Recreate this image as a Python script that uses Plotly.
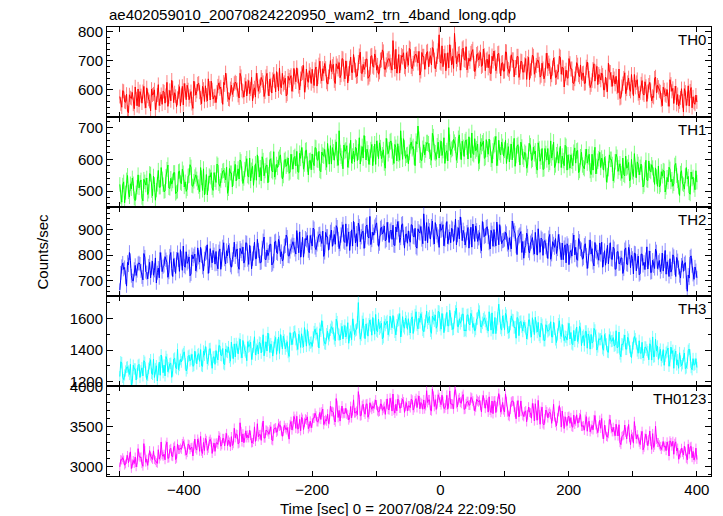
import numpy as np
import plotly.graph_objects as go
from plotly.subplots import make_subplots

# ---------------- data ----------------
TITLE = "ae402059010_20070824220950_wam2_trn_4band_long.qdp"
X_LABEL = "Time [sec] 0 = 2007/08/24 22:09:50"
Y_LABEL = "Counts/sec"
BAND_NAMES = ["TH0", "TH1", "TH2", "TH3", "TH0123"]

# bins come in two interleaved sets: A at -500, -497, ... and B at -498.5, -495.5, ...
TIME_A_START = -500.0
TIME_B_START = -498.5
TIME_STEP = 3.0
EXPOSURE = 1.0        # effective exposure per bin (s), sets the error bars

th0_a = [
    577, 540, 595, 557, 525, 583, 570, 550, 610, 545,
    542, 580, 594, 560, 607, 567, 527, 582, 600, 554,
    618, 568, 550, 593, 581, 543, 598, 633, 556, 578,
    571, 611, 581, 548, 598, 616, 566, 594, 536, 604,
    595, 623, 572, 612, 560, 582, 638, 565, 600, 578,
    556, 613, 604, 578, 626, 658, 583, 566, 616, 600,
    627, 601, 572, 645, 595, 617, 579, 632, 603, 562,
    607, 657, 595, 615, 633, 577, 645, 605, 637, 589,
    653, 593, 635, 675, 607, 619, 640, 585, 633, 649,
    618, 644, 676, 612, 638, 660, 592, 672, 626, 652,
    671, 615, 679, 645, 699, 631, 657, 673, 620, 662,
    663, 688, 622, 682, 694, 652, 706, 638, 674, 656,
    713, 660, 686, 646, 694, 730, 656, 670, 706, 640,
    654, 718, 678, 712, 684, 662, 704, 730, 670, 700,
    708, 684, 770, 672, 658, 722, 694, 714, 680, 728,
    685, 739, 673, 707, 723, 693, 651, 729, 715, 697,
    732, 706, 686, 740, 672, 716, 790, 692, 680, 726,
    700, 676, 728, 716, 795, 690, 722, 668, 740, 706,
    749, 685, 699, 731, 691, 673, 725, 709, 681, 741,
    666, 706, 722, 656, 700, 710, 682, 726, 648, 694,
    665, 730, 670, 690, 703, 645, 677, 715, 660, 697,
    662, 708, 690, 635, 675, 715, 668, 702, 688, 650,
    672, 650, 727, 692, 637, 675, 687, 644, 662, 712,
    678, 610, 668, 640, 690, 672, 622, 655, 685, 645,
    636, 658, 623, 696, 640, 618, 670, 630, 681, 653,
    634, 650, 600, 617, 692, 660, 612, 638, 647, 590,
    570, 611, 640, 587, 625, 603, 653, 580, 609, 635,
    572, 620, 588, 628, 560, 616, 598, 578, 640, 590,
    609, 593, 545, 600, 579, 567, 635, 595, 553, 613,
    584, 558, 604, 524, 592, 570, 544, 608, 576, 550,
    558,
]
th0_b = [
    551, 597, 559, 585, 521, 573, 591, 535, 569, 603,
    594, 554, 612, 538, 578, 560, 602, 586, 532, 582,
    546, 584, 596, 554, 626, 576, 562, 606, 590, 542,
    594, 544, 612, 622, 566, 600, 578, 552, 630, 582,
    620, 592, 552, 602, 614, 562, 606, 630, 568, 580,
    592, 624, 610, 550, 618, 632, 568, 604, 584, 622,
    623, 581, 657, 599, 575, 629, 611, 587, 643, 595,
    575, 633, 611, 643, 625, 593, 657, 579, 617, 635,
    631, 663, 597, 611, 657, 625, 579, 647, 643, 595,
    674, 628, 648, 600, 656, 684, 616, 634, 666, 622,
    631, 669, 613, 685, 647, 673, 691, 627, 645, 701,
    680, 632, 690, 672, 642, 708, 654, 700, 624, 674,
    660, 722, 668, 648, 716, 658, 688, 680, 706, 644,
    716, 682, 724, 668, 654, 702, 738, 672, 686, 706,
    696, 668, 712, 740, 682, 658, 718, 728, 672, 706,
    743, 681, 691, 721, 707, 733, 665, 715, 671, 729,
    680, 718, 746, 702, 688, 734, 696, 752, 714, 666,
    728, 756, 686, 674, 738, 706, 724, 694, 744, 702,
    669, 709, 725, 739, 663, 721, 703, 729, 685, 717,
    702, 676, 658, 716, 734, 666, 724, 682, 692, 664,
    731, 675, 657, 721, 703, 677, 715, 643, 699, 661,
    686, 636, 712, 666, 720, 654, 684, 702, 644, 692,
    638, 700, 674, 682, 652, 710, 642, 662, 716, 654,
    676, 656, 642, 708, 672, 624, 638, 694, 652, 686,
    656, 622, 678, 668, 608, 632, 690, 662, 618, 646,
    658, 600, 644, 594, 662, 636, 650, 620, 610, 672,
    573, 621, 659, 603, 641, 595, 609, 653, 625, 587,
    590, 632, 582, 612, 594, 626, 562, 574, 644, 616,
    597, 565, 609, 583, 601, 543, 619, 605, 589, 549,
    544, 572, 562, 604, 546, 614, 596, 538, 556, 582,
]

th1_a = [
    521, 465, 529, 495, 549, 481, 507, 523, 470, 512,
    510, 535, 469, 529, 541, 499, 553, 485, 521, 503,
    565, 512, 538, 498, 546, 582, 508, 522, 558, 492,
    499, 563, 523, 557, 529, 507, 549, 575, 515, 545,
    538, 514, 574, 502, 488, 552, 524, 544, 510, 558,
    527, 581, 515, 549, 565, 535, 493, 571, 557, 539,
    584, 558, 538, 592, 524, 568, 602, 544, 532, 578,
    558, 534, 586, 574, 608, 548, 580, 526, 598, 564,
    624, 560, 574, 606, 566, 548, 600, 584, 556, 616,
    569, 609, 625, 559, 603, 613, 585, 629, 551, 597,
    617, 580, 635, 597, 565, 623, 610, 590, 650, 585,
    585, 623, 637, 603, 690, 610, 570, 625, 643, 597,
    660, 610, 592, 635, 623, 585, 640, 675, 598, 620,
    607, 647, 617, 584, 634, 652, 602, 630, 572, 640,
    630, 658, 607, 647, 595, 617, 690, 600, 635, 613,
    586, 643, 634, 608, 656, 705, 613, 596, 646, 630,
    652, 626, 597, 670, 620, 642, 604, 657, 628, 587,
    627, 700, 615, 635, 653, 597, 665, 625, 657, 609,
    661, 601, 643, 683, 615, 627, 648, 593, 641, 657,
    606, 632, 664, 600, 626, 648, 580, 660, 614, 640,
    629, 587, 640, 624, 598, 666, 612, 646, 582, 638,
    600, 618, 582, 650, 596, 638, 626, 566, 632, 607,
    568, 634, 598, 584, 658, 622, 574, 614, 588, 641,
    610, 580, 640, 614, 572, 594, 622, 588, 628, 564,
    622, 574, 608, 588, 616, 552, 566, 638, 578, 602,
    574, 592, 606, 528, 570, 600, 584, 550, 616, 562,
    586, 540, 552, 610, 576, 532, 600, 546, 566, 592,
    551, 585, 513, 567, 535, 595, 561, 573, 521, 545,
    579, 519, 547, 563, 511, 529, 569, 537, 523, 587,
    532, 486, 564, 520, 548, 538, 494, 560, 544, 504,
    528,
]
th1_b = [
    481, 519, 463, 535, 497, 523, 541, 477, 495, 551,
    527, 479, 537, 519, 489, 555, 501, 547, 471, 521,
    512, 574, 520, 500, 568, 510, 540, 532, 558, 496,
    561, 527, 569, 513, 499, 547, 583, 517, 531, 551,
    526, 498, 542, 570, 512, 488, 548, 558, 502, 536,
    585, 523, 533, 563, 549, 575, 507, 557, 513, 571,
    532, 570, 598, 554, 540, 586, 548, 604, 566, 518,
    586, 614, 544, 532, 596, 564, 582, 552, 602, 560,
    544, 584, 600, 614, 538, 596, 578, 604, 560, 592,
    605, 579, 561, 619, 637, 569, 627, 585, 595, 567,
    591, 637, 599, 625, 561, 613, 631, 575, 609, 643,
    637, 597, 655, 581, 621, 603, 645, 629, 575, 625,
    588, 626, 638, 596, 668, 618, 604, 648, 632, 584,
    630, 580, 648, 658, 602, 636, 614, 588, 666, 618,
    655, 627, 587, 637, 649, 597, 641, 665, 603, 615,
    622, 654, 640, 580, 648, 662, 598, 634, 614, 652,
    648, 606, 682, 624, 600, 654, 636, 612, 668, 620,
    595, 653, 631, 663, 645, 613, 677, 599, 637, 655,
    639, 671, 605, 619, 665, 633, 587, 655, 651, 603,
    662, 616, 636, 588, 644, 672, 604, 622, 654, 610,
    660, 626, 592, 648, 630, 578, 642, 616, 654, 608,
    622, 572, 626, 642, 600, 618, 578, 652, 594, 634,
    570, 618, 634, 590, 604, 654, 582, 624, 612, 574,
    596, 644, 566, 592, 614, 580, 636, 626, 558, 608,
    582, 570, 632, 608, 564, 616, 604, 554, 594, 622,
    604, 566, 586, 550, 614, 600, 532, 592, 606, 574,
    556, 604, 548, 572, 590, 536, 560, 618, 542, 584,
    575, 557, 519, 597, 533, 565, 583, 551, 573, 515,
    513, 561, 565, 497, 543, 575, 529, 515, 581, 549,
    512, 556, 524, 506, 574, 546, 490, 538, 518, 564,
]

th2_a = [
    665, 756, 745, 714, 772, 810, 720, 700, 760, 740,
    770, 739, 704, 792, 732, 758, 712, 776, 741, 692,
    750, 810, 736, 760, 782, 714, 796, 748, 786, 729,
    809, 737, 787, 835, 753, 768, 793, 727, 785, 804,
    761, 792, 830, 753, 785, 811, 729, 825, 770, 801,
    814, 747, 824, 783, 848, 766, 797, 817, 753, 803,
    794, 824, 745, 817, 831, 781, 846, 764, 807, 786,
    850, 786, 818, 770, 827, 870, 782, 798, 842, 762,
    777, 854, 806, 846, 813, 786, 837, 868, 796, 832,
    852, 823, 895, 809, 792, 869, 835, 859, 818, 876,
    835, 900, 821, 862, 881, 845, 795, 888, 871, 850,
    897, 866, 842, 906, 825, 878, 918, 849, 834, 890,
    864, 835, 898, 883, 924, 852, 890, 826, 912, 871,
    950, 860, 877, 915, 867, 846, 908, 889, 855, 927,
    849, 897, 916, 837, 890, 902, 868, 921, 827, 882,
    894, 850, 916, 870, 832, 902, 886, 862, 960, 856,
    848, 894, 910, 870, 926, 878, 830, 896, 918, 862,
    930, 870, 848, 900, 886, 840, 906, 948, 856, 882,
    859, 907, 871, 831, 891, 913, 853, 887, 817, 899,
    876, 910, 848, 896, 834, 860, 928, 840, 882, 856,
    862, 882, 822, 842, 932, 894, 836, 867, 878, 810,
    788, 837, 872, 808, 854, 828, 888, 800, 835, 866,
    799, 856, 818, 866, 784, 852, 830, 806, 880, 820,
    847, 828, 770, 836, 811, 796, 878, 830, 780, 852,
    820, 789, 844, 748, 830, 804, 772, 849, 811, 780,
    803, 753, 817, 797, 766, 848, 783, 824, 747, 814,
    768, 789, 746, 828, 763, 813, 799, 727, 806, 776,
    724, 804, 760, 744, 832, 789, 732, 780, 748, 812,
    772, 736, 808, 777, 726, 753, 786, 746, 794, 717,
    778, 720, 761, 737, 771, 660, 711, 797, 725, 754,
    712,
]
th2_b = [
    731, 769, 752, 680, 762, 779, 702, 745, 721, 767,
    765, 715, 806, 736, 708, 772, 751, 722, 789, 732,
    712, 782, 755, 794, 772, 734, 810, 717, 762, 784,
    782, 821, 741, 758, 813, 775, 720, 801, 797, 739,
    828, 773, 797, 739, 806, 840, 758, 780, 818, 765,
    766, 812, 745, 831, 785, 817, 838, 761, 783, 850,
    814, 757, 826, 805, 769, 848, 783, 838, 747, 807,
    786, 861, 796, 772, 854, 784, 820, 810, 842, 767,
    851, 810, 861, 794, 777, 834, 878, 798, 815, 839,
    838, 804, 857, 890, 821, 792, 864, 876, 809, 850,
    905, 831, 843, 879, 862, 893, 811, 871, 819, 888,
    834, 880, 914, 861, 844, 899, 854, 921, 875, 818,
    898, 931, 847, 833, 910, 871, 893, 857, 917, 866,
    841, 889, 908, 925, 834, 903, 882, 913, 860, 898,
    892, 861, 839, 909, 930, 849, 918, 868, 880, 846,
    863, 918, 873, 904, 827, 890, 911, 844, 885, 926,
    910, 862, 932, 843, 891, 870, 920, 901, 836, 896,
    844, 889, 904, 853, 940, 880, 863, 916, 896, 839,
    887, 827, 908, 920, 853, 894, 867, 836, 930, 872,
    906, 872, 824, 884, 899, 836, 889, 918, 844, 858,
    889, 843, 867, 824, 901, 884, 802, 874, 891, 853,
    828, 885, 818, 847, 868, 804, 832, 902, 811, 861,
    854, 832, 787, 880, 804, 842, 864, 825, 852, 782,
    782, 840, 844, 763, 818, 856, 801, 784, 864, 825,
    784, 837, 799, 777, 859, 825, 758, 816, 792, 847,
    850, 783, 761, 838, 817, 785, 831, 745, 812, 766,
    789, 729, 820, 765, 830, 751, 787, 808, 739, 796,
    729, 804, 772, 782, 746, 816, 734, 758, 823, 748,
    779, 755, 738, 818, 774, 717, 734, 801, 750, 791,
    752, 711, 778, 766, 694, 723, 792, 759, 706, 740,
]

th3_a = [
    1233, 1320, 1214, 1268, 1294, 1246, 1179, 1304, 1281, 1252,
    1310, 1269, 1237, 1323, 1214, 1285, 1339, 1246, 1227, 1301,
    1279, 1241, 1324, 1305, 1359, 1263, 1314, 1228, 1343, 1289,
    1405, 1303, 1325, 1377, 1313, 1284, 1367, 1341, 1297, 1393,
    1313, 1377, 1403, 1297, 1368, 1384, 1339, 1409, 1285, 1358,
    1397, 1338, 1426, 1365, 1314, 1407, 1386, 1354, 1450, 1346,
    1357, 1418, 1440, 1386, 1461, 1397, 1333, 1421, 1450, 1376,
    1484, 1404, 1375, 1444, 1425, 1364, 1452, 1508, 1385, 1420,
    1416, 1480, 1432, 1379, 1459, 1488, 1408, 1453, 1360, 1469,
    1473, 1518, 1436, 1500, 1417, 1452, 1542, 1425, 1481, 1446,
    1423, 1514, 1500, 1458, 1535, 1586, 1466, 1439, 1519, 1493,
    1547, 1505, 1459, 1576, 1496, 1531, 1470, 1555, 1509, 1443,
    1517, 1597, 1498, 1530, 1700, 1469, 1578, 1514, 1565, 1488,
    1590, 1494, 1561, 1625, 1516, 1535, 1569, 1481, 1558, 1583,
    1525, 1566, 1618, 1515, 1557, 1592, 1483, 1611, 1538, 1579,
    1598, 1508, 1610, 1556, 1642, 1534, 1575, 1601, 1516, 1583,
    1572, 1612, 1506, 1602, 1622, 1554, 1641, 1532, 1590, 1561,
    1638, 1553, 1595, 1531, 1608, 1665, 1547, 1569, 1627, 1521,
    1520, 1623, 1559, 1613, 1568, 1533, 1600, 1642, 1546, 1594,
    1584, 1546, 1642, 1526, 1504, 1606, 1562, 1690, 1539, 1616,
    1529, 1616, 1510, 1564, 1590, 1542, 1475, 1600, 1577, 1548,
    1578, 1537, 1505, 1591, 1482, 1553, 1607, 1514, 1495, 1569,
    1499, 1461, 1544, 1525, 1579, 1483, 1534, 1448, 1563, 1509,
    1562, 1460, 1482, 1534, 1470, 1441, 1524, 1498, 1454, 1550,
    1428, 1492, 1518, 1412, 1483, 1499, 1454, 1524, 1400, 1473,
    1469, 1410, 1498, 1437, 1386, 1479, 1458, 1426, 1522, 1418,
    1377, 1438, 1460, 1406, 1481, 1417, 1353, 1441, 1470, 1396,
    1459, 1379, 1350, 1419, 1400, 1339, 1427, 1483, 1360, 1395,
    1341, 1405, 1357, 1304, 1384, 1413, 1333, 1378, 1285, 1394,
    1338, 1383, 1301, 1365, 1282, 1317, 1407, 1290, 1346, 1311,
    1290,
]
th3_b = [
    1326, 1227, 1243, 1291, 1268, 1310, 1201, 1281, 1211, 1304,
    1227, 1288, 1333, 1262, 1240, 1314, 1253, 1342, 1282, 1205,
    1324, 1369, 1257, 1237, 1340, 1289, 1317, 1269, 1349, 1282,
    1277, 1341, 1367, 1389, 1268, 1361, 1332, 1373, 1303, 1354,
    1371, 1329, 1301, 1393, 1422, 1313, 1406, 1339, 1355, 1310,
    1356, 1429, 1368, 1410, 1308, 1391, 1420, 1330, 1384, 1439,
    1440, 1376, 1469, 1351, 1415, 1386, 1453, 1427, 1341, 1421,
    1369, 1430, 1449, 1382, 1497, 1417, 1394, 1465, 1439, 1362,
    1453, 1373, 1482, 1498, 1408, 1462, 1427, 1386, 1510, 1434,
    1513, 1468, 1404, 1484, 1503, 1420, 1491, 1529, 1430, 1449,
    1480, 1532, 1509, 1413, 1522, 1544, 1442, 1500, 1468, 1528,
    1541, 1473, 1595, 1502, 1464, 1550, 1521, 1483, 1573, 1496,
    1466, 1559, 1524, 1575, 1546, 1495, 1597, 1472, 1533, 1562,
    1555, 1606, 1500, 1523, 1596, 1545, 1471, 1580, 1574, 1497,
    1614, 1541, 1573, 1496, 1586, 1630, 1522, 1550, 1602, 1531,
    1534, 1594, 1505, 1620, 1559, 1601, 1630, 1527, 1556, 1646,
    1599, 1522, 1615, 1586, 1538, 1644, 1558, 1631, 1510, 1590,
    1553, 1652, 1566, 1534, 1643, 1550, 1598, 1585, 1627, 1528,
    1620, 1565, 1632, 1543, 1520, 1597, 1655, 1549, 1572, 1604,
    1565, 1520, 1590, 1635, 1542, 1504, 1600, 1616, 1526, 1581,
    1632, 1542, 1513, 1616, 1587, 1545, 1606, 1491, 1580, 1520,
    1550, 1470, 1591, 1518, 1604, 1498, 1546, 1575, 1482, 1559,
    1461, 1560, 1518, 1531, 1483, 1576, 1467, 1499, 1585, 1486,
    1518, 1486, 1463, 1569, 1511, 1434, 1457, 1546, 1479, 1534,
    1483, 1428, 1518, 1502, 1406, 1444, 1537, 1492, 1422, 1467,
    1492, 1399, 1469, 1389, 1498, 1456, 1479, 1431, 1415, 1514,
    1358, 1435, 1495, 1406, 1467, 1393, 1415, 1486, 1441, 1380,
    1382, 1449, 1369, 1417, 1389, 1440, 1337, 1357, 1469, 1424,
    1384, 1333, 1403, 1362, 1391, 1298, 1419, 1397, 1371, 1307,
    1285, 1330, 1314, 1381, 1288, 1397, 1368, 1276, 1304, 1346,
]

# ---------------- assemble interleaved light curves ----------------
t_a = TIME_A_START + TIME_STEP * np.arange(len(th0_a))
t_b = TIME_B_START + TIME_STEP * np.arange(len(th0_b))
t_all = np.concatenate([t_a, t_b])
order = np.argsort(t_all, kind="stable")
time = t_all[order]


def merge(a, b):
    return np.concatenate([np.asarray(a, float), np.asarray(b, float)])[order]


th0 = merge(th0_a, th0_b)
th1 = merge(th1_a, th1_b)
th2 = merge(th2_a, th2_b)
th3 = merge(th3_a, th3_b)
th0123 = th0 + th1 + th2 + th3   # TH0123 is the sum of the four bands

series = [th0, th1, th2, th3, th0123]

# ---------------- styling ----------------
COLORS = ["#ff0000", "#00ff00", "#0000ff", "#00ffff", "#ff00ff"]
ERR_COLORS = ["rgba(255,0,0,0.5)", "rgba(0,255,0,0.5)", "rgba(0,0,255,0.45)",
              "rgba(0,255,255,0.5)", "rgba(255,0,255,0.5)"]
Y_RANGES = [[507, 817], [451, 734], [640, 988], [1172, 1739], [2882, 4009]]
Y_DTICK = [100, 100, 100, 200, 500]
Y_MINOR = [20, 20, 20, 100, 100]
X_RANGE = [-520, 422]
FONT = "Liberation Sans, Arial, Helvetica, sans-serif"

fig = make_subplots(rows=5, cols=1, shared_xaxes=True, vertical_spacing=0)

for i, v in enumerate(series):
    err = np.sqrt(v / EXPOSURE)
    fig.add_trace(
        go.Scatter(
            x=time, y=v, mode="lines",
            line=dict(color=COLORS[i], width=1),
            error_y=dict(type="data", array=err, visible=True,
                         color=ERR_COLORS[i], thickness=1, width=0),
            hoverinfo="skip", showlegend=False,
        ),
        row=i + 1, col=1,
    )
    fig.update_yaxes(
        row=i + 1, col=1,
        range=Y_RANGES[i], dtick=Y_DTICK[i], tick0=0,
        ticks="inside", ticklen=6, tickwidth=1, tickcolor="black",
        minor=dict(dtick=Y_MINOR[i], tick0=0, ticks="inside", ticklen=3,
                   tickwidth=1, tickcolor="black", showgrid=False),
        showline=True, linecolor="black", linewidth=1, mirror="ticks",
        showgrid=False, zeroline=False,
        tickfont=dict(family=FONT, size=15, color="black"),
    )
    fig.update_xaxes(
        row=i + 1, col=1,
        range=X_RANGE, dtick=200, tick0=0,
        ticks="inside", ticklen=5, tickwidth=1, tickcolor="black",
        minor=dict(dtick=100, tick0=0, ticks="inside", ticklen=5,
                   tickwidth=1, tickcolor="black", showgrid=False),
        showline=True, linecolor="black", linewidth=1, mirror="ticks",
        showgrid=False, zeroline=False,
        tickfont=dict(family=FONT, size=15, color="black"),
    )

annotations = []
for i, name in enumerate(BAND_NAMES):
    yax = fig.layout["yaxis" if i == 0 else f"yaxis{i + 1}"]
    top = yax.domain[1]
    annotations.append(dict(
        text=name, xref="paper", yref="paper", x=1, y=top,
        xanchor="right", yanchor="top", xshift=-3, yshift=-2,
        showarrow=False, font=dict(family=FONT, size=15, color="black"),
    ))

annotations.append(dict(
    text=TITLE, xref="paper", yref="paper", x=0, y=1.0,
    xanchor="left", yanchor="bottom", yshift=2, showarrow=False,
    font=dict(family=FONT, size=15, color="black"),
))
annotations.append(dict(
    text=X_LABEL, xref="paper", yref="paper", x=0.482, y=0,
    xanchor="center", yanchor="middle", yshift=-32, showarrow=False,
    font=dict(family=FONT, size=15, color="black"),
))
annotations.append(dict(
    text=Y_LABEL, xref="paper", yref="paper", x=0, y=0.5,
    xanchor="center", yanchor="middle", xshift=-65, textangle=-90,
    showarrow=False, font=dict(family=FONT, size=15, color="black"),
))

fig.update_layout(
    width=723, height=516,
    margin=dict(l=107, r=12, t=27, b=40),
    paper_bgcolor="white", plot_bgcolor="white",
    annotations=annotations,
    showlegend=False,
    font=dict(family=FONT, size=15, color="black"),
)

fig.write_html(
    "out.html",
    config={"displayModeBar": False},
    post_script="document.body.style.margin='0px';document.body.style.overflow='hidden';",
)
